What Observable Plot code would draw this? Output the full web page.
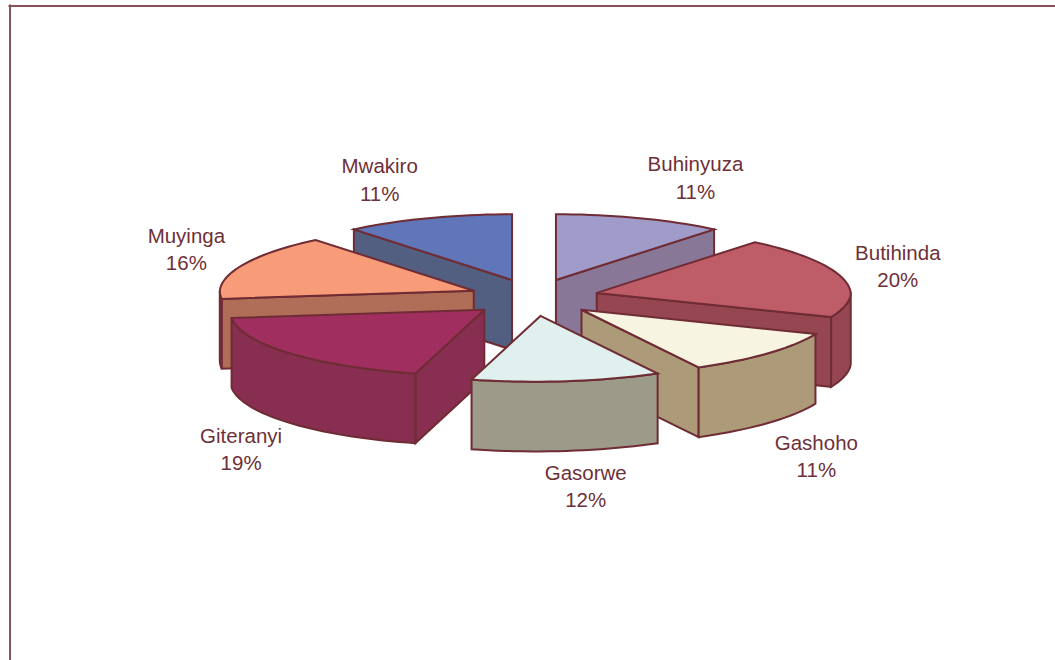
<!DOCTYPE html>
<html>
<head>
<meta charset="utf-8">
<style>
  html, body { margin: 0; padding: 0; background: #fff; }
  svg { display: block; }
</style>
<script src="https://cdn.jsdelivr.net/npm/d3@7"></script>
<script src="https://cdn.jsdelivr.net/npm/@observablehq/plot@0.6"></script>
</head>
<body>
<div id="chart"></div>
<script>
// Share of each commune, clockwise from twelve o'clock.
const communes = ["Buhinyuza", "Butihinda", "Gashoho", "Gasorwe", "Giteranyi", "Muyinga", "Mwakiro"];
const shares = [11, 20, 11, 12, 19, 16, 11];

// Surface and side colours of each wedge.
const topColors = ["#A09BC8", "#BE5C67", "#F7F5E1", "#E0F0EE", "#A02F60", "#F79B78", "#6076B9"];
const sideColors = ["#887796", "#964650", "#AD9A78", "#9C9A88", "#882E50", "#B06D58", "#525F80"];

// Wedges are painted back to front so nearer ones cover farther ones.
const paintOrder = ["Buhinyuza", "Mwakiro", "Butihinda", "Muyinga", "Gashoho", "Giteranyi", "Gasorwe"];

// Label shift from the wedge's outer midpoint, in pie radii.
const labelShiftX = [0.22, 0.224, 0.19, 0.076, -0.192, -0.212, -0.192];
const labelShiftY = [0.165, 0.047, -0.125, -0.133, -0.098, 0.074, 0.157];

// Pie geometry, in units of the pie radius.
const tilt = 0.259;        // vertical squash of the disc
const depth = 0.2745;      // height of the extruded side
const explodeX = 0.255;    // horizontal pull-out of each wedge
const explodeY = 0.073;    // vertical pull-out of each wedge
const frontSkew = 0.09;    // leftward lean of the near part of the disc
const backNarrow = 0.03;   // narrowing of the far part of the disc
const radiusPx = 254;
const centerPx = [533.5, 297];
const widthPx = 1055;
const heightPx = 660;

const total = d3.sum(shares);
const toAngle = (v) => (v / total) * 2 * Math.PI;
const arcStep = Math.PI / 90;

// Places a point of the disc surface, with the view's slight lean applied.
const onDisc = (x, y) => [x + frontSkew * Math.min(y, 0), y];

let running = 0;
const wedges = communes.map((name, i) => {
  const a0 = toAngle(running);
  running += shares[i];
  const a1 = toAngle(running);
  const mid = (a0 + a1) / 2;
  const ox = explodeX * Math.sin(mid);
  const oy = explodeY * Math.cos(mid);
  return {name, i, share: shares[i], a0, a1, mid, ox, oy};
});

const rim = (w, a) => {
  const narrow = 1 - backNarrow * Math.max(Math.cos(a), 0);
  return onDisc(w.ox + narrow * Math.sin(a), w.oy + tilt * Math.cos(a));
};

function arcPoints(w, from, to) {
  const n = Math.max(1, Math.ceil((to - from) / arcStep));
  return d3.range(n + 1).map((k) => rim(w, from + ((to - from) * k) / n));
}

// One closed outline per visible face of each wedge.
const faces = [];
const addFace = (w, part, pts, fill) => {
  const z = `${w.name}-${part}`;
  [...pts, pts[0]].forEach(([x, y]) => faces.push({z, x, y, fill}));
};
const drop = (pts) => pts.map(([x, y]) => [x, y - depth]);

for (const name of paintOrder) {
  const w = wedges.find((d) => d.name === name);
  const apex = onDisc(w.ox, w.oy);
  const side = sideColors[w.i];
  // A radial wall shows when its outward normal points at the viewer.
  if (Math.sin(w.a0) < 0) {
    const edge = [apex, rim(w, w.a0)];
    addFace(w, "start", [...edge, ...drop(edge).reverse()], side);
  }
  if (Math.sin(w.a1) > 0) {
    const edge = [apex, rim(w, w.a1)];
    addFace(w, "end", [...edge, ...drop(edge).reverse()], side);
  }
  // The curved wall shows on the front half of the disc only.
  const from = Math.max(w.a0, Math.PI / 2);
  const to = Math.min(w.a1, 1.5 * Math.PI);
  if (to > from) {
    const arc = arcPoints(w, from, to);
    addFace(w, "rim", [...arc, ...drop(arc).reverse()], side);
  }
  addFace(w, "top", [apex, ...arcPoints(w, w.a0, w.a1)], topColors[w.i]);
}

const labels = wedges.map((w) => {
  const [x, y] = rim(w, w.mid);
  const front = Math.cos(w.mid) < 0 ? depth : 0;
  return {
    text: `${w.name}\n${w.share}%`,
    x: x + labelShiftX[w.i],
    y: y - front + labelShiftY[w.i]
  };
});

const ink = "#6F2C35";

const chart = Plot.plot({
  width: widthPx,
  height: heightPx,
  margin: 0,
  axis: null,
  x: {domain: [-centerPx[0] / radiusPx, (widthPx - centerPx[0]) / radiusPx], range: [0, widthPx]},
  y: {domain: [(centerPx[1] - heightPx) / radiusPx, centerPx[1] / radiusPx], range: [heightPx, 0]},
  marks: [
    Plot.frame({anchor: "top", insetTop: 5.5, insetLeft: 9, stroke: "#86525A", strokeWidth: 2}),
    Plot.frame({anchor: "left", insetLeft: 9.5, insetTop: 5, stroke: "#86525A", strokeWidth: 2}),
    Plot.line(faces, {
      x: "x",
      y: "y",
      z: "z",
      fill: (d) => d.fill,
      stroke: ink,
      strokeWidth: 2,
      strokeLinejoin: "miter",
      strokeMiterlimit: 4,
      curve: "linear"
    }),
    Plot.text(labels, {
      x: "x",
      y: "y",
      text: "text",
      fill: "#6E3038",
      fontSize: 20.5,
      fontFamily: "'Liberation Sans', Arial, sans-serif",
      lineHeight: 1.34,
      lineAnchor: "middle",
      textAnchor: "middle"
    })
  ]
});

document.getElementById("chart").appendChild(chart);
</script>
</body>
</html>
